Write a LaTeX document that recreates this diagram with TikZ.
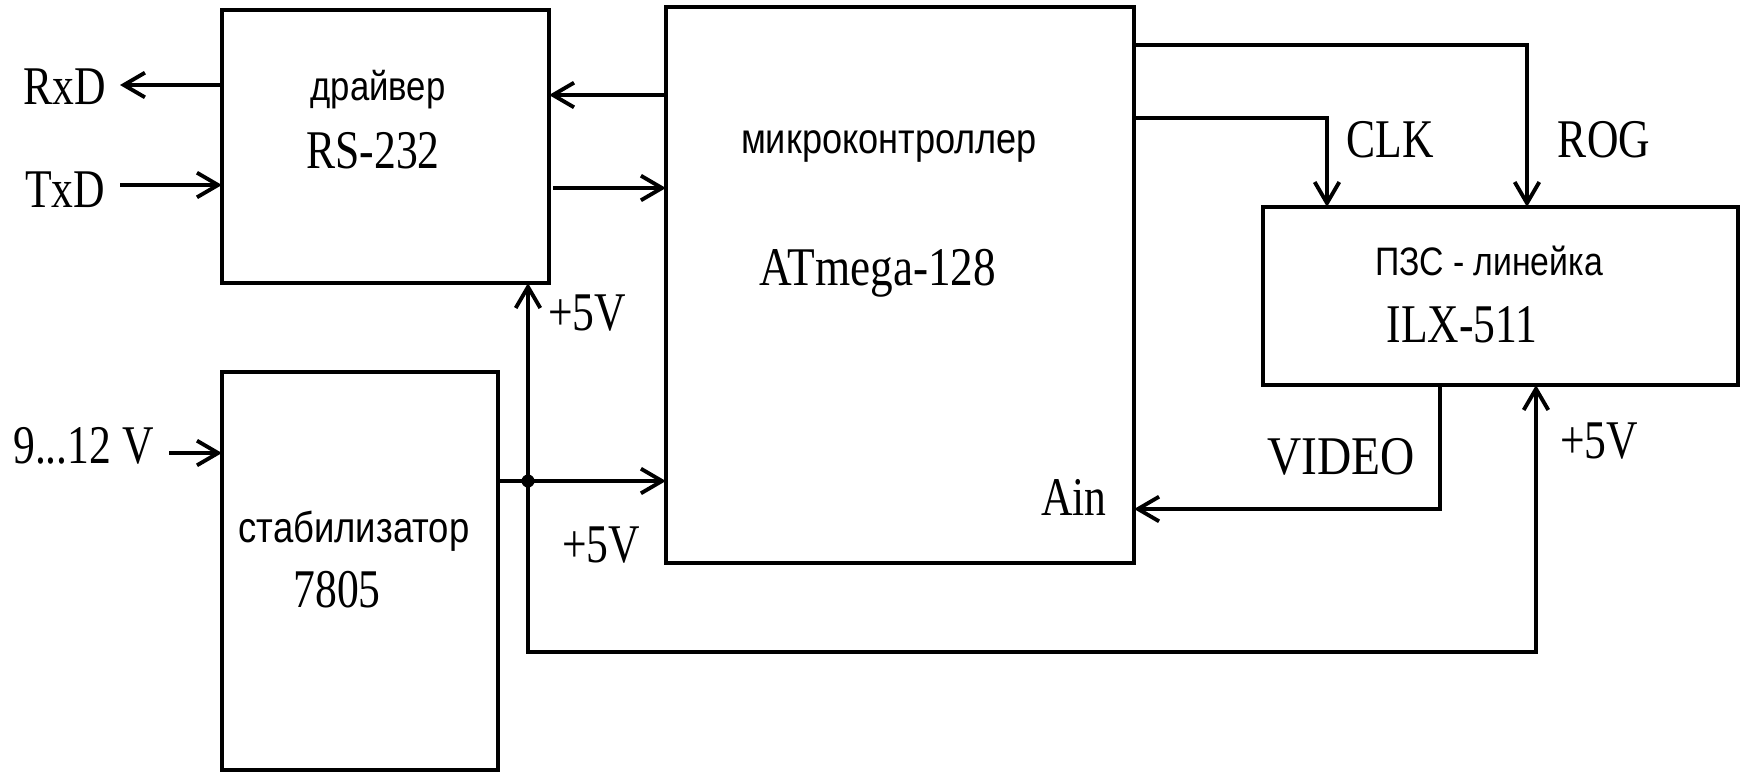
\documentclass[tikz,border=0pt]{standalone}
\usepackage{fontspec}
\usepackage{graphicx}
\setmainfont{Liberation Serif}
\newfontfamily\sansf{Liberation Sans}
\usetikzlibrary{arrows.meta}
\newcommand\sq[1]{\scalebox{0.8}[1]{#1}}
\newcommand\sqs[1]{\scalebox{0.85}[1]{#1}}
\tikzset{
  blk/.style={draw, line width=1.1pt, rectangle, inner sep=0pt, outer sep=0pt},
  wire/.style={line width=1.1pt},
  arr/.style={line width=1.1pt, -{Straight Barb[length=6pt,width=7pt,line width=1.1pt]}},
  lab/.style={anchor=base, inner sep=0pt, font=\fontsize{15.5}{18}\selectfont},
  slab/.style={anchor=base, inner sep=0pt, font=\sansf\fontsize{12}{15}\selectfont},
}
\begin{document}
\begin{tikzpicture}[x=0.01cm, y=-0.01cm]
\useasboundingbox[fill=white] (0,0) rectangle (1744,772);
% blocks
\node[blk, minimum width=32.7mm, minimum height=27.3mm] (drv) at (385.5,146.5) {};
\node[blk, minimum width=46.8mm, minimum height=55.6mm] (mcu) at (900,285) {};
\node[blk, minimum width=27.6mm, minimum height=39.8mm] (stab) at (360,571) {};
\node[blk, minimum width=47.5mm, minimum height=17.8mm] (ccd) at (1500.5,296) {};
% block texts
\node[slab, font=\sansf\fontsize{11.6}{15}\selectfont] (tdrv) at (378,100) {\sqs{драйвер}};
\node[lab] (trs) at (373,168) {\sq{RS-232}};
\node[slab, font=\sansf\fontsize{12.1}{15}\selectfont] (tmcu) at (889,153) {\sqs{микроконтроллер}};
\node[lab] (tat) at (878,285) {\scalebox{0.83}[1]{ATmega-128}};
\node[lab] (tain) at (1074,515) {\sq{Ain}};
\node[slab, font=\sansf\fontsize{12.2}{15}\selectfont] (tstab) at (354,542) {\sqs{стабилизатор}};
\node[lab] (t78) at (337,607) {\sq{7805}};
\node[slab, font=\sansf\fontsize{11.3}{15}\selectfont] (tccd) at (1489,275) {\sqs{ПЗС - линейка}};
\node[lab] (tilx) at (1462,342) {\sq{ILX-511}};
% signal labels
\node[lab] (lrx) at (65,104) {\sq{RxD}};
\node[lab] (ltx) at (65,207) {\sq{TxD}};
\node[lab] (lvin) at (83.5,463) {\sq{9...12 V}};
\node[lab] (l5a) at (587,330) {\sq{+5V}};
\node[lab] (l5b) at (601,562) {\sq{+5V}};
\node[lab] (l5c) at (1599,458) {\sq{+5V}};
\node[lab] (lclk) at (1390,157) {\sq{CLK}};
\node[lab] (lrog) at (1604,157) {\sq{ROG}};
\node[lab] (lvid) at (1341,474) {\scalebox{0.87}[1]{VIDEO}};
% coordinates
\coordinate (rx) at (120,85);
\coordinate (tx) at (120,185);
\coordinate (a1) at (600,95);
\coordinate (a2) at (553,188);
\coordinate (vin) at (169,453);
\coordinate (s2) at (500,481);
\coordinate (j) at (528,481);
\coordinate (bb) at (528,652);
\coordinate (b2) at (1536,652);
\coordinate (c1) at (1327,118);
\coordinate (r1) at (1527,45);
\coordinate (v1) at (1440,509);
% connectors
\draw[arr] (rx -| drv.west) -- (rx);
\draw[arr] (tx) -- (tx -| drv.west);
\draw[arr] (a1 -| mcu.west) -- (a1 -| drv.east);
\draw[arr] (a2) -- (a2 -| mcu.west);
\draw[arr] (vin) -- (vin -| stab.west);
\draw[arr] (s2 -| stab.east) -- (s2 -| mcu.west);
\draw[arr] (j) -- (j |- drv.south);
\draw[arr] (j) -- (bb) -- (b2) -- (b2 |- ccd.south);
\fill (j) circle[radius=0.65mm];
\draw[arr] (c1 -| mcu.east) -- (c1) -- (c1 |- ccd.north);
\draw[arr] (r1 -| mcu.east) -- (r1) -- (r1 |- ccd.north);
\draw[arr] (v1 |- ccd.south) -- (v1) -- (v1 -| mcu.east);
\end{tikzpicture}
\end{document}
